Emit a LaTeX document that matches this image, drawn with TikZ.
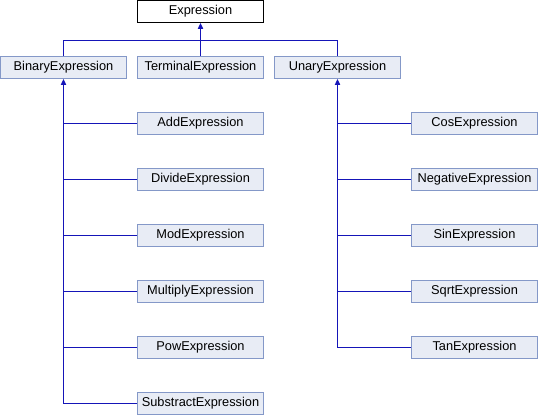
\documentclass[tikz,border=0pt]{standalone}
\usepackage{fontspec}
\setmainfont{Liberation Sans}
\usetikzlibrary{arrows.meta}
\definecolor{boxfill}{HTML}{E8ECF5}
\definecolor{boxline}{HTML}{8498C8}
\definecolor{linkcol}{HTML}{1515B8}
\begin{document}
\begin{tikzpicture}[x=0.75pt,y=-0.75pt,
  cls/.style={draw=boxline,fill=boxfill,line width=0.75pt,minimum width=94.5pt,minimum height=16.5pt,inner sep=0pt,font=\fontsize{9.6}{11}\selectfont},
  root/.style={cls,draw=black,fill=white},
  lnk/.style={color=linkcol,line width=0.9pt},
  inh/.style={lnk,-{Triangle[length=4.5pt,width=4pt]}}]
\useasboundingbox (0,0) rectangle (538,416);
\node[root] (expr) at (200.5,11.5) {Expression};
\node[cls] (bin) at (63.5,67.5) {BinaryExpression};
\node[cls] (term) at (200.5,67.5) {TerminalExpression};
\node[cls] (un) at (337.5,67.5) {UnaryExpression};
\node[cls] (add) at (200.5,123.5) {AddExpression};
\node[cls] (div) at (200.5,179.5) {DivideExpression};
\node[cls] (mod) at (200.5,235.5) {ModExpression};
\node[cls] (mul) at (200.5,291.5) {MultiplyExpression};
\node[cls] (pow) at (200.5,347.5) {PowExpression};
\node[cls] (sub) at (200.5,403.5) {SubstractExpression};
\node[cls] (cos) at (474.5,123.5) {CosExpression};
\node[cls] (neg) at (474.5,179.5) {NegativeExpression};
\node[cls] (sin) at (474.5,235.5) {SinExpression};
\node[cls] (sqrt) at (474.5,291.5) {SqrtExpression};
\node[cls] (tan) at (474.5,347.5) {TanExpression};
\coordinate (bar) at (200.5,40.5);
\draw[lnk] (bin.north) |- (bar) -| (un.north);
\draw[lnk] (add.west) -- (add.west -| bin.south)
  (div.west) -- (div.west -| bin.south)
  (mod.west) -- (mod.west -| bin.south)
  (mul.west) -- (mul.west -| bin.south)
  (pow.west) -- (pow.west -| bin.south)
  (sub.west) -- (sub.west -| bin.south);
\draw[lnk] (cos.west) -- (cos.west -| un.south)
  (neg.west) -- (neg.west -| un.south)
  (sin.west) -- (sin.west -| un.south)
  (sqrt.west) -- (sqrt.west -| un.south)
  (tan.west) -- (tan.west -| un.south);
\draw[inh] (term.north) -- (expr.south);
\draw[inh] (sub.west -| bin.south) -- (bin.south);
\draw[inh] (tan.west -| un.south) -- (un.south);
\end{tikzpicture}
\end{document}
